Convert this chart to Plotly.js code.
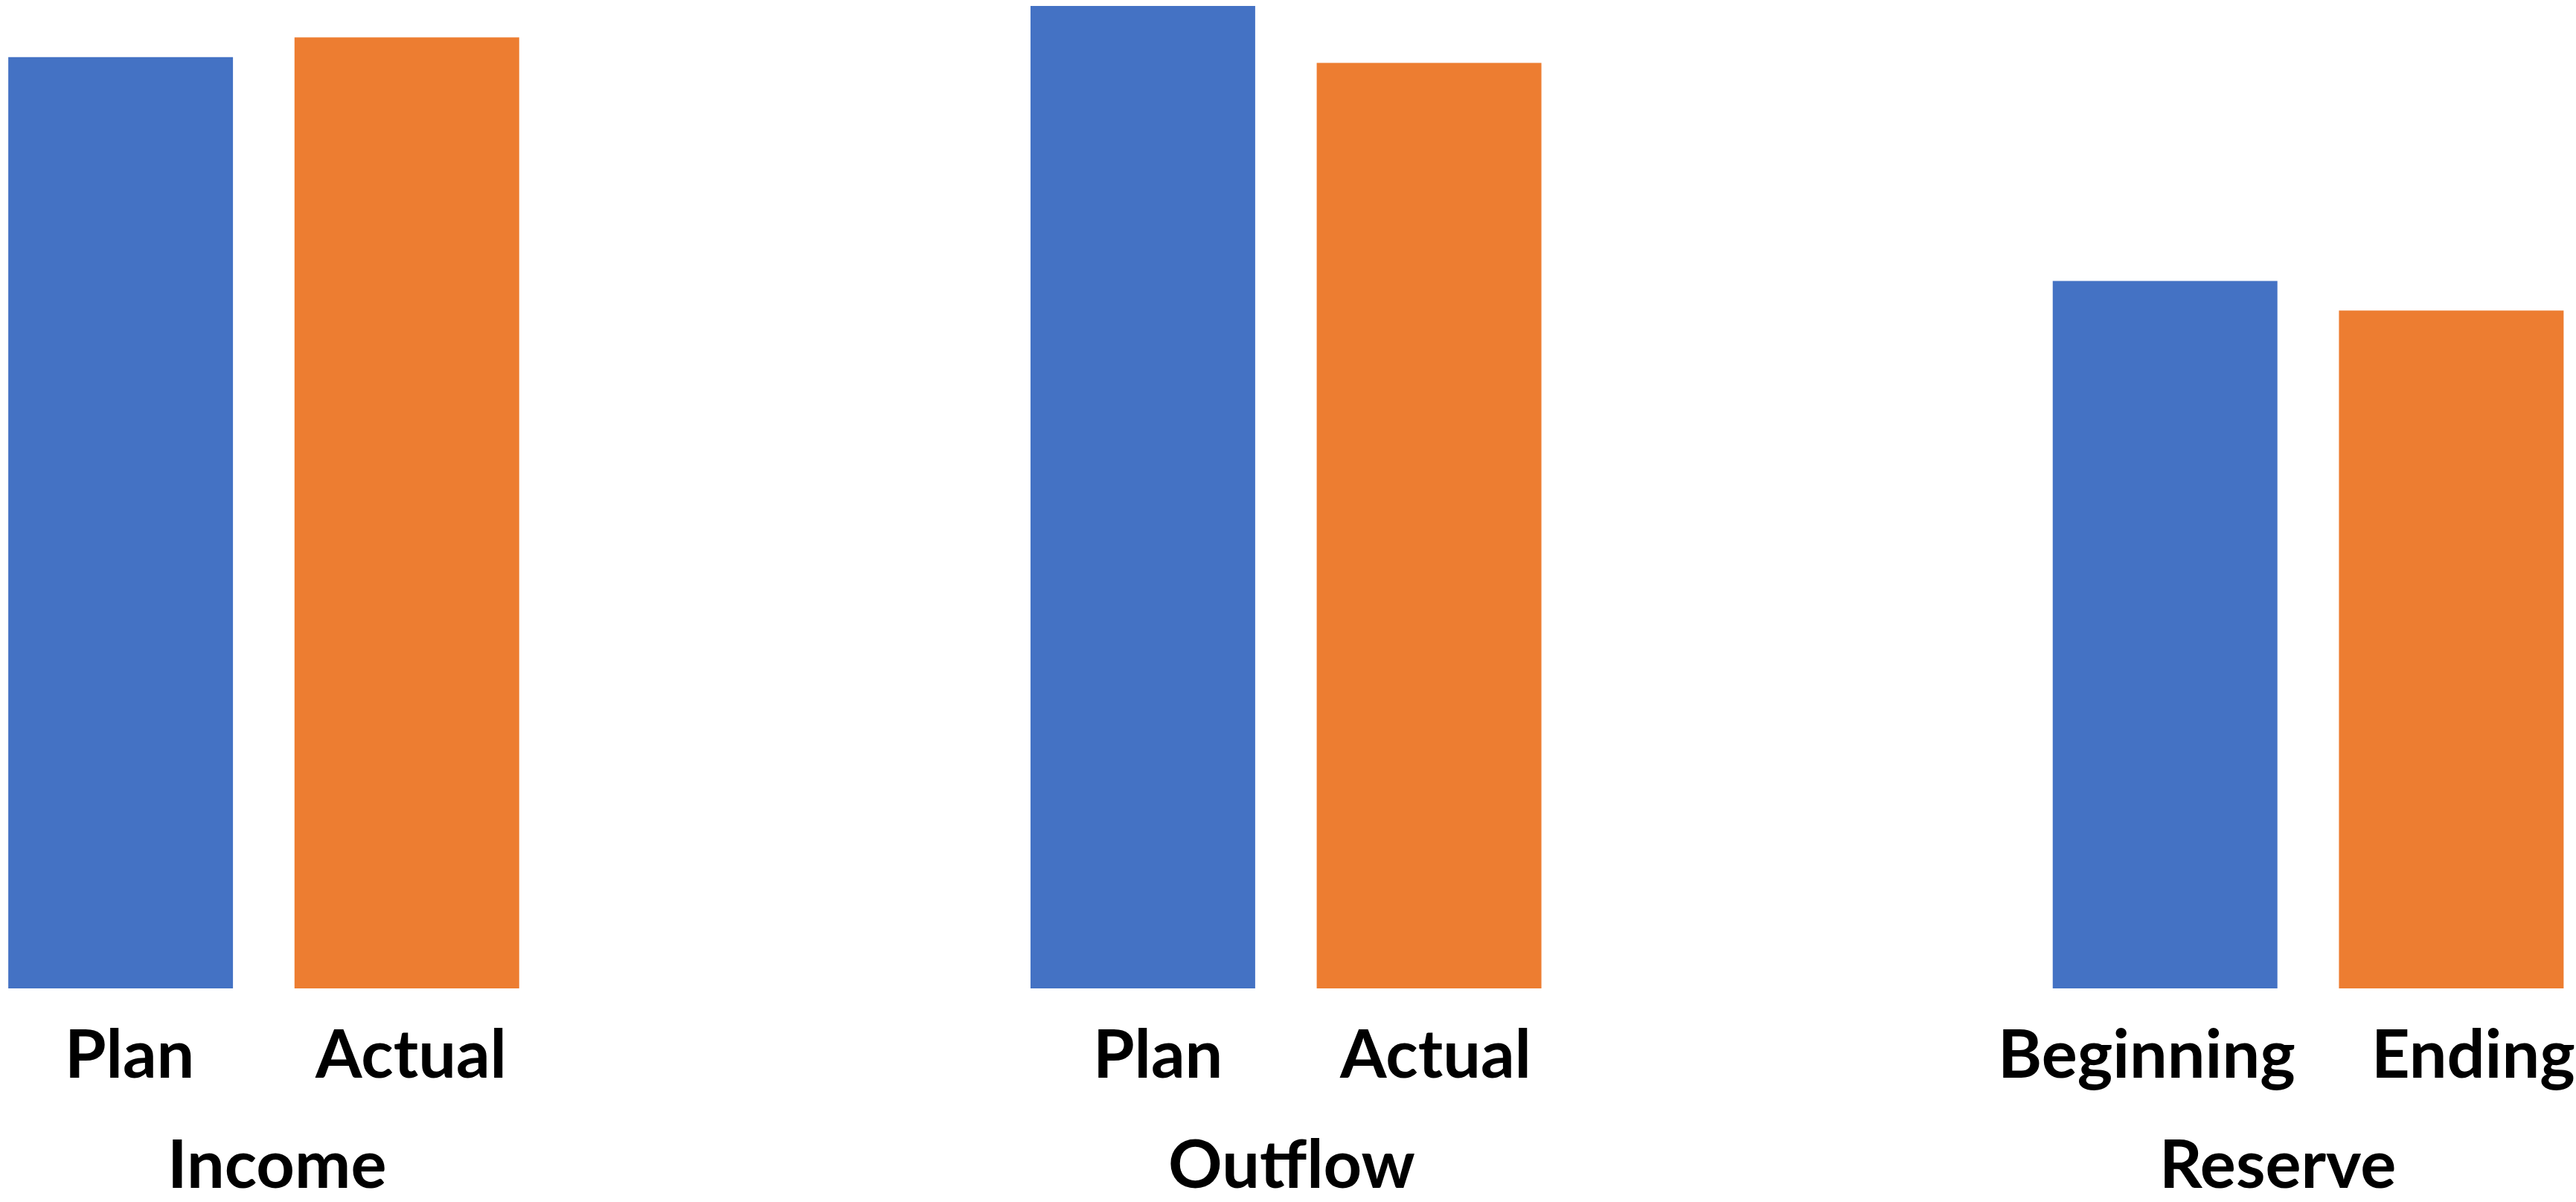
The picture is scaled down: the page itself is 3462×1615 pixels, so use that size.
<!DOCTYPE html>
<html>
<head>
<meta charset="utf-8">
<script src="https://cdn.plot.ly/plotly-3.0.1.min.js"></script>
<style>html,body{margin:0;padding:0;background:#fff;}#chart{width:3462px;height:1615px;}</style>
</head>
<body>
<div id="chart"></div>
<script>
const groups = ['Income', 'Outflow', 'Reserve'];
const firstLabels = ['Plan', 'Plan', 'Beginning'];
const secondLabels = ['Actual', 'Actual', 'Ending'];
const firstValues = [94.8, 100, 72.0];
const secondValues = [96.8, 94.2, 69.0];

const BLUE = '#4472C4', ORANGE = '#ED7D31';
const FONT = 'Lato, "Open Sans", sans-serif';

const traces = [
  {type: 'bar', x: groups, y: firstValues, name: 'first', marker: {color: BLUE}, hoverinfo: 'skip'},
  {type: 'bar', x: groups, y: secondValues, name: 'second', marker: {color: ORANGE}, hoverinfo: 'skip'}
];

// label placement (pixels, layout only)
const subShift = 192;
const firstNudge = [12, 20, -25];
const secondNudge = [6, 9, 30];
const groupNudge = [18, 8, -41];
const labelFont = {family: FONT, size: 90, color: '#000', weight: 700};

const annotations = [];
groups.forEach((g, i) => {
  annotations.push({x: g, xref: 'x', y: 0, yref: 'paper', yanchor: 'top', xanchor: 'center', borderpad: 0,
    xshift: -subShift + firstNudge[i], yshift: -30, showarrow: false, text: firstLabels[i], font: labelFont});
  annotations.push({x: g, xref: 'x', y: 0, yref: 'paper', yanchor: 'top', xanchor: 'center', borderpad: 0,
    xshift: subShift + secondNudge[i], yshift: -30, showarrow: false, text: secondLabels[i], font: labelFont});
  annotations.push({x: g, xref: 'x', y: 0, yref: 'paper', yanchor: 'top', xanchor: 'center', borderpad: 0,
    xshift: groupNudge[i], yshift: -178, showarrow: false, text: g, font: labelFont});
});

const layout = {
  width: 3462, height: 1615,
  margin: {l: 0, r: 0, t: 8, b: 287, pad: 0},
  paper_bgcolor: '#fff', plot_bgcolor: '#fff',
  showlegend: false,
  barmode: 'group', bargap: 0.44, bargroupgap: 0.215,
  xaxis: {range: [-0.258, 2.262], showticklabels: false, showgrid: false, zeroline: false, showline: false, ticks: ''},
  yaxis: {range: [0, 100], visible: false, showgrid: false, zeroline: false},
  annotations: annotations
};

Plotly.newPlot('chart', traces, layout, {staticPlot: true, displayModeBar: false});
</script>
</body>
</html>
